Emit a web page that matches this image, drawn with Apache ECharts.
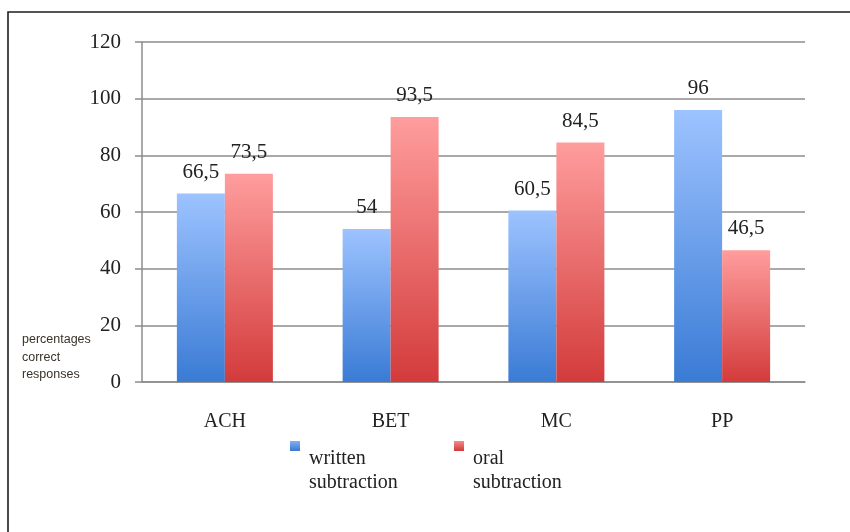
<!DOCTYPE html>
<html>
<head>
<meta charset="utf-8">
<script src="https://cdn.jsdelivr.net/npm/echarts@6/dist/echarts.min.js"></script>
<style>
html,body{margin:0;padding:0;background:#fff;}
#chart{width:850px;height:532px;}
</style>
</head>
<body>
<div id="chart"></div>
<script>
var categories = ['ACH', 'BET', 'MC', 'PP'];
var writtenValues = [66.5, 54, 60.5, 96];
var oralValues = [73.5, 93.5, 84.5, 46.5];
var seriesNames = ['written subtraction', 'oral subtraction'];
var yTicks = { min: 0, max: 120, interval: 20 };
var yAxisTitle = 'percentages\ncorrect\nresponses';

var serif = '"Liberation Serif", "Times New Roman", serif';
function fmt(p) { return String(p.value).replace('.', ','); }
function grad(top, bottom, end) {
  return new echarts.graphic.LinearGradient(0, 0, 0, end || 1, [
    { offset: 0, color: top }, { offset: 1, color: bottom }
  ]);
}
// square at top-left of a taller/wider icon box, so the two-line label hangs below-right of it
var topSquareIcon = 'path://M0,0L10,0L10,10L0,10Z M14,60L14.01,60L14.01,60.01Z';

function legendFor(name, left, top, bottom) {
  return {
    data: [{ name: name, itemStyle: { color: grad(top, bottom, 10 / 60) } }],
    left: left, top: 436, itemWidth: 14, itemHeight: 60,
    icon: topSquareIcon,
    formatter: function (n) { return n.replace(' ', '\n'); },
    textStyle: { fontFamily: serif, fontSize: 20, color: '#222', lineHeight: 24 }
  };
}

var chart = echarts.init(document.getElementById('chart'), null, { renderer: 'canvas' });
chart.setOption({
  animation: false,
  backgroundColor: '#fff',
  title: {
    text: yAxisTitle,
    left: 17, top: 326,
    textStyle: { fontFamily: '"Liberation Sans", Arial, sans-serif', fontSize: 12.5, fontWeight: 'normal', color: '#3a3228', lineHeight: 17.5 }
  },
  graphic: [{
    type: 'rect', z: 100, silent: true,
    shape: { x: 8, y: 12, width: 860, height: 560 },
    style: { fill: 'none', stroke: '#1e1e1e', lineWidth: 1.6 }
  }],
  grid: { left: 142, top: 42, right: 45, bottom: 150, containLabel: false },
  legend: [
    legendFor(seriesNames[0], 285, '#7fb0f5', '#3a78d0'),
    legendFor(seriesNames[1], 449, '#f58a8a', '#d03a3a')
  ],
  xAxis: {
    type: 'category', data: categories,
    axisLine: { lineStyle: { color: '#8c8c8c', width: 1.5 } },
    axisTick: { show: false },
    axisLabel: { fontFamily: serif, fontSize: 20, color: '#222', margin: 30 }
  },
  yAxis: {
    type: 'value', min: yTicks.min, max: yTicks.max, interval: yTicks.interval,
    axisLine: { show: true, lineStyle: { color: '#8c8c8c', width: 1.5 } },
    axisTick: { show: true, length: 7, lineStyle: { color: '#8c8c8c', width: 1.5 } },
    splitLine: { lineStyle: { color: '#8c8c8c', width: 1.5 } },
    axisLabel: { fontFamily: serif, fontSize: 21, color: '#222', margin: 21 }
  },
  series: [{
    name: seriesNames[0], type: 'bar', data: writtenValues,
    barWidth: 48, barGap: '0%',
    itemStyle: { color: grad('#9dc3ff', '#3a7bd5') },
    label: { show: true, position: 'top', distance: 11, formatter: fmt, fontFamily: serif, fontSize: 21, color: '#222' }
  }, {
    name: seriesNames[1], type: 'bar', data: oralValues,
    barWidth: 48, barGap: '0%',
    itemStyle: { color: grad('#ff9d9d', '#d33b3b') },
    label: { show: true, position: 'top', distance: 11, formatter: fmt, fontFamily: serif, fontSize: 21, color: '#222' }
  }]
});
</script>
</body>
</html>
